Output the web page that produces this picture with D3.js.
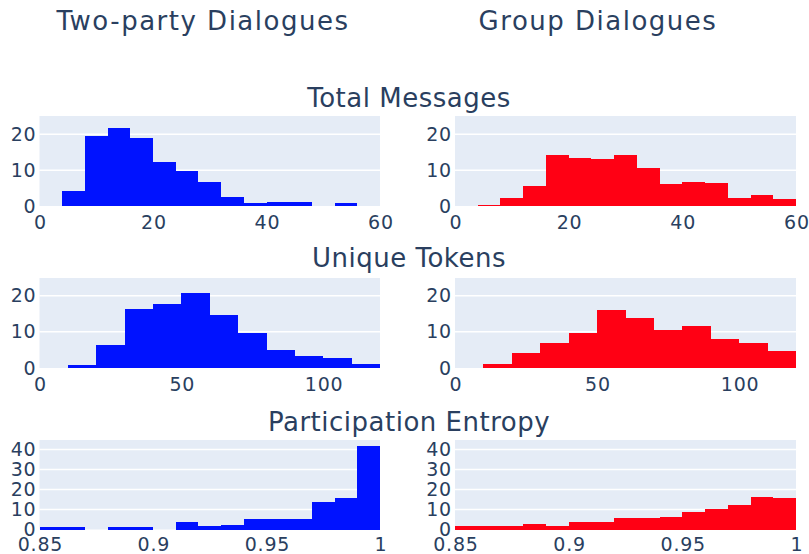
<!DOCTYPE html>
<html>
<head>
<meta charset="utf-8">
<script src="https://cdn.jsdelivr.net/npm/d3@7"></script>
<style>
  body { margin: 0; background: #fff; }
  text { font-family: "DejaVu Sans", Verdana, sans-serif; fill: #2a3f5f; }
</style>
</head>
<body>
<script>
// histogram values (percent of dialogues per bin)
const msgBinStarts = [0, 4, 8, 12, 16, 20, 24, 28, 32, 36, 40, 44, 48, 52, 56]
const msgTwo = [0, 4.1, 19.5, 21.7, 19.0, 12.3, 9.7, 6.8, 2.6, 0.7, 1.1, 1.1, 0, 0.7, 0]
const msgGroup = [0, 0.4, 2.3, 5.6, 14.2, 13.5, 13.1, 14.2, 10.5, 6.0, 6.8, 6.4, 2.2, 3.0, 1.9]

const tokBinStarts = [0, 10, 20, 30, 40, 50, 60, 70, 80, 90, 100, 110]
const tokTwo = [0, 0.8, 6.4, 16.4, 17.6, 20.8, 14.6, 9.7, 4.9, 3.4, 2.7, 1.1]
const tokGroup = [0, 1.1, 4.1, 6.8, 9.7, 16.0, 13.8, 10.5, 11.6, 7.9, 6.8, 4.6]

const entBinStarts = [0.85, 0.86, 0.87, 0.88, 0.89, 0.90, 0.91, 0.92, 0.93, 0.94, 0.95, 0.96, 0.97, 0.98, 0.99]
const entTwo = [1.3, 1.3, 0, 1.3, 1.3, 0, 3.5, 1.5, 2.3, 5.0, 5.0, 5.0, 13.5, 15.5, 41.5]
const entGroup = [1.5, 1.5, 1.5, 2.8, 1.5, 3.5, 3.5, 5.5, 5.5, 6.2, 8.8, 10.3, 12.2, 16.3, 15.5]

const columnTitles = ["Two-party Dialogues", "Group Dialogues"]
const rowTitles = ["Total Messages", "Unique Tokens", "Participation Entropy"]

const msgXTicks = [0, 20, 40, 60]
const tokXTicks = [0, 50, 100]
const entXTicks = [0.85, 0.9, 0.95, 1]
const smallYTicks = [0, 10, 20]
const bigYTicks = [0, 10, 20, 30, 40]

const width = 809
const height = 554
const colors = ["#0012ff", "#ff0014"]
const colX = [[39.5, 380], [455, 796]]
const tickSpacing = 0.8

const rows = [
    { title: rowTitles[0], top: 116, bottom: 206, titleY: 107, pad: 10, starts: msgBinStarts, binW: 4, xDom: [0, 60], yMax: 25.1, xTicks: msgXTicks, yTicks: smallYTicks, series: [msgTwo, msgGroup] },
    { title: rowTitles[1], top: 278, bottom: 368, titleY: 267, pad: 10, starts: tokBinStarts, binW: 10, xDom: [0, 120], yMax: 24.9, xTicks: tokXTicks, yTicks: smallYTicks, series: [tokTwo, tokGroup] },
    { title: rowTitles[2], top: 440, bottom: 529.5, titleY: 431, pad: 8, starts: entBinStarts, binW: 0.01, xDom: [0.85, 1], yMax: 44.7, xTicks: entXTicks, yTicks: bigYTicks, series: [entTwo, entGroup] }
]

const svg = d3.select("body")
    .append("svg")
    .attr("width", width)
    .attr("height", height)

svg.selectAll(".coltitle")
    .data(columnTitles)
    .enter()
    .append("text")
    .attr("class", "coltitle")
    .attr("x", (d, i) => i == 0 ? 203 : 598)
    .attr("y", 30)
    .attr("text-anchor", "middle")
    .style("font-size", "26px")
    .style("letter-spacing", "1.5px")
    .text(d => d)

rows.forEach(row => {
    svg.append("text")
        .attr("x", 409)
        .attr("y", row.titleY)
        .attr("text-anchor", "middle")
        .style("font-size", "26px")
        .style("letter-spacing", "0.5px")
        .text(row.title)

    row.series.forEach((vals, c) => {
        const xScale = d3.scaleLinear().domain(row.xDom).range(colX[c])
        const yScale = d3.scaleLinear().domain([0, row.yMax]).range([row.bottom, row.top])
        const g = svg.append("g")

        g.append("rect")
            .attr("x", colX[c][0])
            .attr("y", row.top)
            .attr("width", colX[c][1] - colX[c][0])
            .attr("height", row.bottom - row.top)
            .attr("fill", "#e5ecf6")

        g.selectAll(".grid")
            .data(row.yTicks.filter(t => t > 0))
            .enter()
            .append("line")
            .attr("x1", colX[c][0])
            .attr("x2", colX[c][1])
            .attr("y1", d => yScale(d))
            .attr("y2", d => yScale(d))
            .attr("stroke", "#fff")
            .attr("stroke-width", 1.5)

        g.selectAll(".bar")
            .data(vals)
            .enter()
            .append("rect")
            .attr("x", (d, i) => xScale(row.starts[i]))
            .attr("width", (d, i) => xScale(row.starts[i] + row.binW) - xScale(row.starts[i]))
            .attr("y", d => yScale(d))
            .attr("height", d => row.bottom - yScale(d))
            .attr("fill", colors[c])
            .attr("shape-rendering", "crispEdges")

        const yAxis = d3.axisLeft(yScale).tickValues(row.yTicks).tickSize(0).tickPadding(3)
        const ya = g.append("g")
            .attr("transform", "translate(" + colX[c][0] + ",0)")
            .call(yAxis)
        ya.select(".domain").remove()
        ya.selectAll("text")
            .style("font-size", "19px")
            .style("letter-spacing", tickSpacing + "px")
            .attr("fill", "#2a3f5f")

        const xAxis = d3.axisBottom(xScale).tickValues(row.xTicks).tickSize(0).tickPadding(row.pad)
            .tickFormat(d => d)
        const xa = g.append("g")
            .attr("transform", "translate(0," + row.bottom + ")")
            .call(xAxis)
        xa.select(".domain").remove()
        xa.selectAll("text")
            .style("font-size", "19px")
            .style("letter-spacing", tickSpacing + "px")
            .attr("dx", tickSpacing / 2)
            .attr("fill", "#2a3f5f")
    })
})
</script>
</body>
</html>
